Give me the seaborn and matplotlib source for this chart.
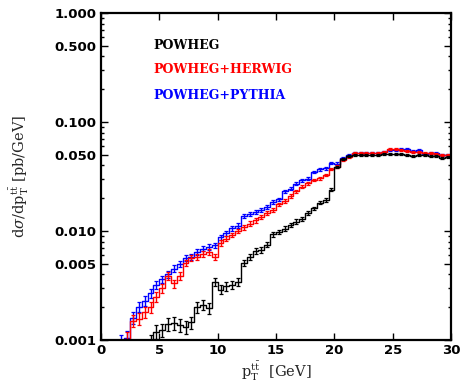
import numpy as np
import pandas as pd
import seaborn as sns
import matplotlib
matplotlib.use("Agg")
import matplotlib.pyplot as plt
from matplotlib.ticker import FixedLocator, MultipleLocator, LogLocator, NullFormatter, NullLocator

# transverse momentum of the top pair, 0.5 GeV bins from 0 to 30 GeV
bin_width = 0.5
pt_range = (0.0, 30.0)
bin_edges = np.arange(pt_range[0], pt_range[1] + 1e-9, bin_width)

# dsigma/dpT [pb/GeV] per bin
powheg = [
    0.0005, 0.0005, 0.0005, 0.0005, 0.0005, 0.0005, 0.0005, 0.0005,
    0.00095, 0.00119, 0.00124, 0.0014, 0.00142, 0.00137, 0.00132, 0.00145,
    0.0020, 0.0021, 0.00195, 0.0034, 0.0029, 0.0031, 0.0032, 0.0034,
    0.0051, 0.0058, 0.0066, 0.0067, 0.0075, 0.0093, 0.0098, 0.0105,
    0.0114, 0.0122, 0.0128, 0.0145, 0.0161, 0.0182, 0.0192, 0.0238,
    0.0385, 0.046, 0.0485, 0.050, 0.050, 0.0495, 0.0498, 0.050,
    0.0505, 0.0505, 0.051, 0.0505, 0.0495, 0.0485, 0.050, 0.050,
    0.049, 0.0485, 0.047, 0.0475,
]
powheg_herwig = [
    0.0006, 0.0006, 0.0006, 0.0008, 0.00103, 0.0015, 0.00157, 0.0018,
    0.0020, 0.0025, 0.0030, 0.0039, 0.0033, 0.0039, 0.0051, 0.0057,
    0.0058, 0.0062, 0.0064, 0.0058, 0.0078, 0.0085, 0.0092, 0.0100,
    0.0108, 0.0117, 0.0125, 0.0134, 0.0145, 0.0157, 0.0175, 0.0188,
    0.0210, 0.0232, 0.0255, 0.0274, 0.0294, 0.0305, 0.0326, 0.0370,
    0.0389, 0.0448, 0.0481, 0.0516, 0.0516, 0.0516, 0.0520, 0.0520,
    0.0535, 0.0560, 0.0570, 0.0553, 0.0540, 0.0535, 0.0535, 0.0520,
    0.0516, 0.0510, 0.0500, 0.0500,
]
powheg_pythia = [
    0.0006, 0.0006, 0.0006, 0.00095, 0.00105, 0.0016, 0.00202, 0.0023,
    0.0027, 0.0032, 0.0036, 0.0040, 0.0045, 0.0050, 0.0057, 0.0058,
    0.0064, 0.0069, 0.0071, 0.0074, 0.0088, 0.0095, 0.0106, 0.0112,
    0.0137, 0.0142, 0.0150, 0.0155, 0.0165, 0.0185, 0.0195, 0.0231,
    0.0245, 0.0272, 0.0292, 0.0303, 0.0348, 0.0368, 0.0375, 0.0420,
    0.0415, 0.0470, 0.0500, 0.0516, 0.0516, 0.0516, 0.0520, 0.0520,
    0.0530, 0.0553, 0.0553, 0.0560, 0.0560, 0.0540, 0.0553, 0.0510,
    0.0516, 0.0516, 0.0498, 0.0500,
]

series_names = ["POWHEG", "POWHEG+HERWIG", "POWHEG+PYTHIA"]
series_colors = {"POWHEG": "black", "POWHEG+HERWIG": "#ff0000", "POWHEG+PYTHIA": "#0000ff"}
# Monte Carlo statistical uncertainty scale (pb/GeV units)
stat_scale = 2.5e-5

y_ticks = [0.001, 0.005, 0.010, 0.050, 0.100, 0.500, 1.000]

centers = 0.5 * (bin_edges[:-1] + bin_edges[1:])
frames = []
for name, vals in zip(series_names, [powheg, powheg_herwig, powheg_pythia]):
    vals = np.asarray(vals)
    frames.append(pd.DataFrame({"pt": centers, "xsec": vals,
                                "err": np.sqrt(vals * stat_scale), "sample": name}))
df = pd.concat(frames, ignore_index=True)

sns.set_style("ticks")
plt.rcParams["mathtext.fontset"] = "dejavuserif"

fig = plt.figure(figsize=(4.62, 3.85), dpi=100)
ax = fig.add_axes([0.2186, 0.1169, 0.7576, 0.8494])

for name in ["POWHEG+PYTHIA", "POWHEG+HERWIG", "POWHEG"]:
    sub = df[df["sample"] == name].reset_index(drop=True)
    col = series_colors[name]
    sns.histplot(data=sub, x="pt", weights="xsec", binwidth=bin_width, binrange=pt_range,
                 element="step", fill=False, color=col, linewidth=1.0, ax=ax, legend=False)
    ax.errorbar(sub["pt"], sub["xsec"], yerr=sub["err"], fmt="none",
                ecolor=col, elinewidth=1.0, capsize=1.5, capthick=0.9)

ax.set_yscale("log")
ax.set_xlim(0, 30)
ax.set_ylim(0.001, 1.0)

ax.yaxis.set_major_locator(FixedLocator(y_ticks))
ax.set_yticklabels([f"{t:.3f}" for t in y_ticks])
ax.yaxis.set_minor_locator(LogLocator(base=10, subs=np.arange(2, 10), numticks=20))
ax.yaxis.set_minor_formatter(NullFormatter())
ax.xaxis.set_major_locator(MultipleLocator(5))
ax.xaxis.set_minor_locator(NullLocator())

for lab in ax.get_xticklabels() + ax.get_yticklabels():
    lab.set_fontfamily("DejaVu Sans")
    lab.set_fontweight("bold")
    lab.set_fontsize(9.5)

ax.tick_params(which="both", direction="in", top=True, right=True, width=1.0, colors="black")
ax.tick_params(which="major", length=5, pad=3)
ax.tick_params(which="minor", length=2.5)
for sp in ax.spines.values():
    sp.set_visible(True)
    sp.set_linewidth(1.6)
    sp.set_color("black")

ax.set_xlabel(r"p$_{\mathrm{T}}^{\mathrm{t\bar{t}}}$  [GeV]", fontfamily="DejaVu Serif",
              fontsize=10.5, labelpad=2)
ax.set_ylabel(r"d$\sigma$/dp$_{\mathrm{T}}^{\mathrm{t\bar{t}}}$ [pb/GeV]", fontfamily="DejaVu Serif",
              fontsize=10.5, labelpad=17)

for name, yfrac in zip(series_names, [0.902, 0.826, 0.749]):
    ax.text(0.149, yfrac, name, transform=ax.transAxes, color=series_colors[name],
            fontfamily="DejaVu Serif", fontweight="bold", fontsize=9, va="center", ha="left")

fig.savefig("out.png", dpi=100)
